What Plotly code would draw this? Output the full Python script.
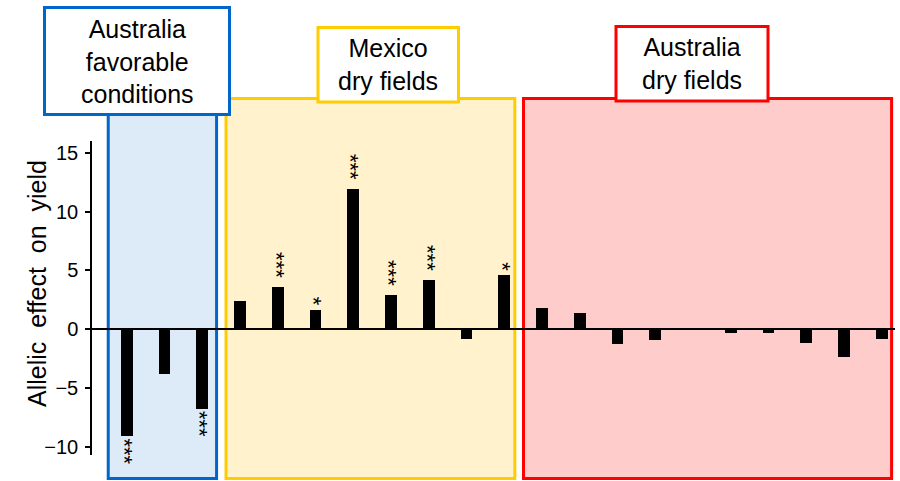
import plotly.graph_objects as go

# ---------------- data ----------------
groups = ["Australia<br>favorable<br>conditions", "Mexico<br>dry fields", "Australia<br>dry fields"]
group_sizes = [3, 8, 10]
effects = [-9.1, -3.8, -6.8,
           2.4, 3.6, 1.65, 11.9, 2.9, 4.2, -0.8, 4.6,
           1.8, 1.4, -1.3, -0.9, 0.0, -0.35, -0.35, -1.2, -2.4, -0.8]
significance = ["***", "", "***",
                "", "***", "*", "***", "***", "***", "", "*",
                "", "", "", "", "", "", "", "", "", ""]
y_ticks = [-10, -5, 0, 5, 10, 15]
y_title = "Allelic\u00a0 effect\u00a0 on\u00a0 yield"

# ---------------- layout helpers ----------------
W, H = 900, 481
L, R, T, B = 92, 5, 141, 26
PW, PH = W - L - R, H - T - B


def xp(px):
    return (px - L) / PW


def yp(py):
    return (H - B - py) / PH


x_idx = list(range(len(effects)))

fig = go.Figure()
fig.add_trace(go.Bar(x=x_idx, y=effects, width=0.31,
                     marker=dict(color="black", line=dict(width=0)),
                     showlegend=False, hoverinfo="y"))

# region boxes (style per group)
region_style = [
    dict(line="#0066CC", fill="#DDEAF8", pad=(-0.49, 0.38), top=113),
    dict(line="#FFCC00", fill="#FFF2CC", pad=(-0.37, 0.28), top=98.5),
    dict(line="#FF0000", fill="#FFCCCC", pad=(-0.49, 0.26), top=98.5),
]
label_boxes = [(44.5, 229.5, 7.5, 114.5), (318, 458.5, 27.5, 102), (616, 768, 26.5, 101)]

shapes = []
annotations = []
start = 0
for g, n, st, lb in zip(groups, group_sizes, region_style, label_boxes):
    x0 = start + st["pad"][0]
    x1 = start + n - 1 + st["pad"][1]
    shapes.append(dict(type="rect", xref="x", yref="paper",
                       x0=x0, x1=x1, y0=yp(478.5), y1=yp(st["top"]),
                       line=dict(color=st["line"], width=3),
                       fillcolor=st["fill"], layer="below"))
    shapes.append(dict(type="rect", xref="paper", yref="paper",
                       x0=xp(lb[0]), x1=xp(lb[1]), y0=yp(lb[3]), y1=yp(lb[2]),
                       line=dict(color=st["line"], width=3),
                       fillcolor="white", layer="above"))
    annotations.append(dict(xref="paper", yref="paper",
                            x=xp((lb[0] + lb[1]) / 2), y=yp((lb[2] + lb[3]) / 2),
                            text=g, showarrow=False, xanchor="center", yanchor="middle",
                            font=dict(size=25, color="black")))
    start += n

# significance stars
star_font = dict(size=22, color="black", family="Liberation Sans, Arial, sans-serif")
for i, (v, s) in enumerate(zip(effects, significance)):
    if not s:
        continue
    if v >= 0:
        annotations.append(dict(x=i, y=v, xref="x", yref="y", text=s, showarrow=False,
                                textangle=90, xanchor="center", yanchor="bottom",
                                yshift=7 if len(s) > 1 else 2, xshift=-2,
                                font=star_font))
    else:
        annotations.append(dict(x=i, y=v, xref="x", yref="y", text=s, showarrow=False,
                                textangle=90, xanchor="center", yanchor="top",
                                yshift=0, xshift=-2,
                                font=star_font))

# y-axis title
annotations.append(dict(xref="paper", yref="paper", x=xp(37), y=yp(284),
                        text=y_title, showarrow=False, textangle=-90,
                        xanchor="center", yanchor="middle",
                        font=dict(size=25, color="black")))

fig.update_layout(
    width=W, height=H,
    margin=dict(l=L, r=R, t=T, b=B, pad=0),
    paper_bgcolor="white", plot_bgcolor="rgba(0,0,0,0)",
    font=dict(family="Liberation Sans, Arial, sans-serif", color="black"),
    shapes=shapes, annotations=annotations,
    xaxis=dict(range=[-0.92, 20.35], showgrid=False, zeroline=False,
               showticklabels=False, ticks="", showline=False, fixedrange=True),
    yaxis=dict(range=[-10.7, 16], tickvals=y_ticks, showgrid=False,
               zeroline=True, zerolinecolor="black", zerolinewidth=1.5,
               showline=True, linecolor="black", linewidth=1.5,
               ticks="outside", ticklen=5, tickcolor="black", tickwidth=1.5,
               tickfont=dict(size=20, color="black"), ticklabelstandoff=3,
               fixedrange=True),
    bargap=0,
)

fig.write_html("out.html",
               config={"displayModeBar": False},
               post_script="document.body.style.margin='0px';document.body.style.padding='0px';")
